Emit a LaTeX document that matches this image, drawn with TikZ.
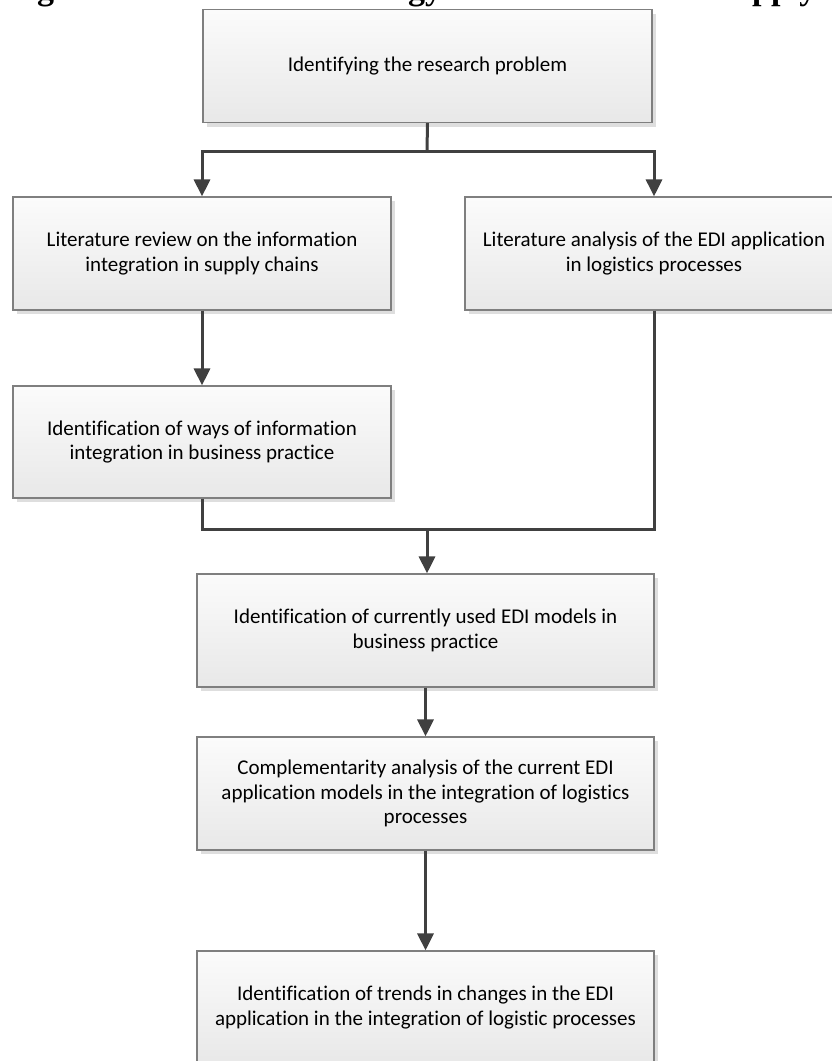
\documentclass[tikz,border=0pt]{standalone}
\usepackage{fontspec}
\setmainfont{Carlito}[Ligatures={NoCommon}]
\newfontfamily\capfont{Liberation Serif}
\usetikzlibrary{arrows.meta,shadows}
\definecolor{boxborder}{HTML}{7F7F7F}
\definecolor{conn}{HTML}{404040}
\begin{document}
\begin{tikzpicture}[x=1pt,y=-1pt,
  stepbox/.style={draw=boxborder, line width=1.2pt, top color=black!1.5, bottom color=black!9,
    general shadow={fill=black!13, shadow xshift=4pt, shadow yshift=-4pt},
    align=center, font=\fontsize{21}{24.5}\selectfont, inner sep=0pt},
  conline/.style={draw=conn, line width=3pt},
  arr/.style={conline, -{Triangle[length=17pt,width=16pt]}},
  capt/.style={font=\capfont\bfseries\fontsize{34}{38}\selectfont, anchor=base west, inner sep=0pt}]
\useasboundingbox (0,0) rectangle (832,1061);
\clip (0,0) rectangle (832,1061);

% cut-off caption fragments
\node[capt] (capa) at (37,-1) {g};
\node[capt] (capb) at (408,-1) {gy};
\node[capt] (capc) at (752,-1) {pply};

\node[stepbox, minimum width=449pt, minimum height=113pt] (top) at (427.5,66) {Identifying the research problem};
\node[stepbox, minimum width=378pt, minimum height=113pt] (lit1) at (202,253.5) {Literature review on the information\\integration in supply chains};
\node[stepbox, minimum width=378pt, minimum height=113pt] (lit2) at (654,253.5) {Literature analysis of the EDI application\\in logistics processes};
\node[stepbox, minimum width=378pt, minimum height=112pt] (ways) at (202,442) {Identification of ways of information\\integration in business practice};
\node[stepbox, minimum width=457pt, minimum height=113pt] (models) at (425.5,630.5) {Identification of currently used EDI models in\\business practice};
\node[stepbox, minimum width=457pt, minimum height=113pt] (compl) at (425.5,793.5) {Complementarity analysis of the current EDI\\application models in the integration of logistics\\processes};
\node[stepbox, minimum width=457pt, minimum height=113pt] (trends) at (425.5,1007.5) {Identification of trends in changes in the EDI\\application in the integration of logistic processes};

\coordinate (split) at (427,151);
\coordinate (merge) at (427,529);

\draw[conline] (top.south) -- (split);
\draw[arr] (split) -| (lit1.north);
\draw[arr] (split) -| (lit2.north);
\draw[arr] (lit1.south) -- (ways.north);
\draw[conline] (ways.south) |- (merge);
\draw[conline] (lit2.south) |- (merge);
\draw[arr] (merge) -- (merge |- models.north);
\draw[arr] (models.south) -- (compl.north);
\draw[arr] (compl.south) -- (trends.north);
\end{tikzpicture}
\end{document}
